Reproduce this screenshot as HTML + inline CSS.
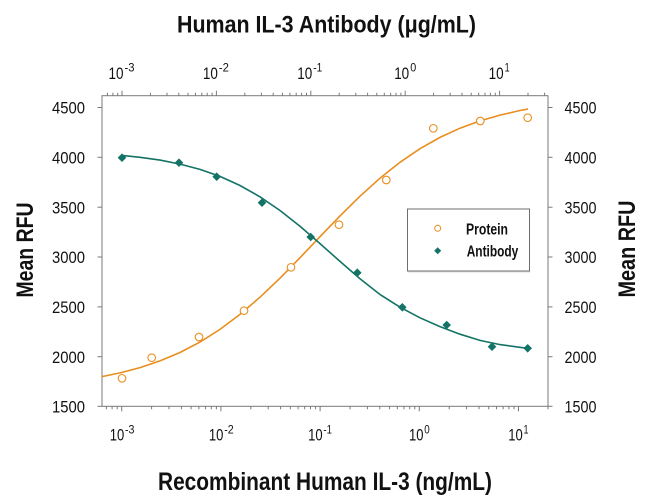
<!DOCTYPE html>
<html><head><meta charset="utf-8"><style>
html,body{margin:0;padding:0;background:#fff;}
svg{display:block;}
text{font-family:"Liberation Sans",sans-serif;fill:#111;}
</style></head><body>
<svg width="650" height="499" viewBox="0 0 650 499" xmlns="http://www.w3.org/2000/svg">
<rect width="650" height="499" fill="#fff"/>
<!-- titles -->
<text x="177" y="32.5" font-size="24" font-weight="bold" textLength="299" lengthAdjust="spacingAndGlyphs">Human IL-3 Antibody (μg/mL)</text>
<text x="158" y="490" font-size="25" font-weight="bold" textLength="334" lengthAdjust="spacingAndGlyphs">Recombinant Human IL-3 (ng/mL)</text>
<text transform="translate(33,250) rotate(-90)" text-anchor="middle" font-size="24" font-weight="bold" textLength="95" lengthAdjust="spacingAndGlyphs">Mean RFU</text>
<text transform="translate(635,249) rotate(-90)" text-anchor="middle" font-size="24" font-weight="bold" textLength="97" lengthAdjust="spacingAndGlyphs">Mean RFU</text>

<!-- frame -->
<rect x="102" y="95.7" width="446" height="310.6" fill="none" stroke="#7a7a7a" stroke-width="1"/>

<!-- y ticks -->
<g stroke="#7a7a7a" stroke-width="1">
<line x1="97.5" y1="107.5" x2="102" y2="107.5"/><line x1="548" y1="107.5" x2="552.5" y2="107.5"/>
<line x1="97.5" y1="157.3" x2="102" y2="157.3"/><line x1="548" y1="157.3" x2="552.5" y2="157.3"/>
<line x1="97.5" y1="207.2" x2="102" y2="207.2"/><line x1="548" y1="207.2" x2="552.5" y2="207.2"/>
<line x1="97.5" y1="257" x2="102" y2="257"/><line x1="548" y1="257" x2="552.5" y2="257"/>
<line x1="97.5" y1="306.9" x2="102" y2="306.9"/><line x1="548" y1="306.9" x2="552.5" y2="306.9"/>
<line x1="97.5" y1="356.7" x2="102" y2="356.7"/><line x1="548" y1="356.7" x2="552.5" y2="356.7"/>
<line x1="97.5" y1="406.3" x2="102" y2="406.3"/><line x1="548" y1="406.3" x2="552.5" y2="406.3"/>
</g>
<g font-size="17" text-anchor="end">
<text x="85" y="113.7" textLength="33" lengthAdjust="spacingAndGlyphs">4500</text>
<text x="85" y="163.5" textLength="33" lengthAdjust="spacingAndGlyphs">4000</text>
<text x="85" y="213.4" textLength="33" lengthAdjust="spacingAndGlyphs">3500</text>
<text x="85" y="263.2" textLength="33" lengthAdjust="spacingAndGlyphs">3000</text>
<text x="85" y="313.1" textLength="33" lengthAdjust="spacingAndGlyphs">2500</text>
<text x="85" y="362.9" textLength="33" lengthAdjust="spacingAndGlyphs">2000</text>
<text x="85" y="412.6" textLength="33" lengthAdjust="spacingAndGlyphs">1500</text>
</g>
<g font-size="17">
<text x="564.5" y="113.7" textLength="32" lengthAdjust="spacingAndGlyphs">4500</text>
<text x="564.5" y="163.5" textLength="32" lengthAdjust="spacingAndGlyphs">4000</text>
<text x="564.5" y="213.4" textLength="32" lengthAdjust="spacingAndGlyphs">3500</text>
<text x="564.5" y="263.2" textLength="32" lengthAdjust="spacingAndGlyphs">3000</text>
<text x="564.5" y="313.1" textLength="32" lengthAdjust="spacingAndGlyphs">2500</text>
<text x="564.5" y="362.9" textLength="32" lengthAdjust="spacingAndGlyphs">2000</text>
<text x="564.5" y="412.6" textLength="32" lengthAdjust="spacingAndGlyphs">1500</text>
</g>

<!-- top axis ticks (decade 94.4, 1e-3 at 122) -->
<g stroke="#7a7a7a" stroke-width="1">
<line x1="107.4" y1="95.7" x2="107.4" y2="92.7"/><line x1="112.9" y1="95.7" x2="112.9" y2="92.7"/><line x1="117.7" y1="95.7" x2="117.7" y2="92.7"/>
<line x1="122" y1="95.7" x2="122" y2="90.7"/>
<line x1="150.4" y1="95.7" x2="150.4" y2="92.7"/><line x1="167" y1="95.7" x2="167" y2="92.7"/><line x1="178.8" y1="95.7" x2="178.8" y2="92.7"/><line x1="188" y1="95.7" x2="188" y2="92.7"/><line x1="195.5" y1="95.7" x2="195.5" y2="92.7"/><line x1="201.8" y1="95.7" x2="201.8" y2="92.7"/><line x1="207.2" y1="95.7" x2="207.2" y2="92.7"/><line x1="212.1" y1="95.7" x2="212.1" y2="92.7"/>
<line x1="216.4" y1="95.7" x2="216.4" y2="90.7"/>
<line x1="244.8" y1="95.7" x2="244.8" y2="92.7"/><line x1="261.4" y1="95.7" x2="261.4" y2="92.7"/><line x1="273.2" y1="95.7" x2="273.2" y2="92.7"/><line x1="282.4" y1="95.7" x2="282.4" y2="92.7"/><line x1="289.9" y1="95.7" x2="289.9" y2="92.7"/><line x1="296.2" y1="95.7" x2="296.2" y2="92.7"/><line x1="301.6" y1="95.7" x2="301.6" y2="92.7"/><line x1="306.5" y1="95.7" x2="306.5" y2="92.7"/>
<line x1="310.8" y1="95.7" x2="310.8" y2="90.7"/>
<line x1="339.2" y1="95.7" x2="339.2" y2="92.7"/><line x1="355.8" y1="95.7" x2="355.8" y2="92.7"/><line x1="367.6" y1="95.7" x2="367.6" y2="92.7"/><line x1="376.8" y1="95.7" x2="376.8" y2="92.7"/><line x1="384.3" y1="95.7" x2="384.3" y2="92.7"/><line x1="390.6" y1="95.7" x2="390.6" y2="92.7"/><line x1="396" y1="95.7" x2="396" y2="92.7"/><line x1="400.9" y1="95.7" x2="400.9" y2="92.7"/>
<line x1="405.2" y1="95.7" x2="405.2" y2="90.7"/>
<line x1="433.6" y1="95.7" x2="433.6" y2="92.7"/><line x1="450.2" y1="95.7" x2="450.2" y2="92.7"/><line x1="462" y1="95.7" x2="462" y2="92.7"/><line x1="471.2" y1="95.7" x2="471.2" y2="92.7"/><line x1="478.7" y1="95.7" x2="478.7" y2="92.7"/><line x1="485" y1="95.7" x2="485" y2="92.7"/><line x1="490.4" y1="95.7" x2="490.4" y2="92.7"/><line x1="495.3" y1="95.7" x2="495.3" y2="92.7"/>
<line x1="499.6" y1="95.7" x2="499.6" y2="90.7"/>
<line x1="528" y1="95.7" x2="528" y2="92.7"/><line x1="544.6" y1="95.7" x2="544.6" y2="92.7"/>
</g>
<g font-size="17">
<text x="108.5" y="79" textLength="15" lengthAdjust="spacingAndGlyphs">10</text><text x="124.5" y="71.5" font-size="12" textLength="10" lengthAdjust="spacingAndGlyphs">-3</text>
<text x="202.9" y="79" textLength="15" lengthAdjust="spacingAndGlyphs">10</text><text x="218.9" y="71.5" font-size="12" textLength="10" lengthAdjust="spacingAndGlyphs">-2</text>
<text x="297.3" y="79" textLength="15" lengthAdjust="spacingAndGlyphs">10</text><text x="313.3" y="71.5" font-size="12" textLength="9" lengthAdjust="spacingAndGlyphs">-1</text>
<text x="394.2" y="79" textLength="15" lengthAdjust="spacingAndGlyphs">10</text><text x="410.2" y="71.5" font-size="12" textLength="6" lengthAdjust="spacingAndGlyphs">0</text>
<text x="488.6" y="79" textLength="15" lengthAdjust="spacingAndGlyphs">10</text><text x="504.6" y="71.5" font-size="12" textLength="5" lengthAdjust="spacingAndGlyphs">1</text>
</g>

<!-- bottom axis ticks (decade 99.2, 1e-3 at 121.7) -->
<g stroke="#7a7a7a" stroke-width="1">
<line x1="106.3" y1="406.3" x2="106.3" y2="409.3"/><line x1="112.1" y1="406.3" x2="112.1" y2="409.3"/><line x1="117.2" y1="406.3" x2="117.2" y2="409.3"/>
<line x1="121.7" y1="406.3" x2="121.7" y2="411.3"/>
<line x1="151.6" y1="406.3" x2="151.6" y2="409.3"/><line x1="169" y1="406.3" x2="169" y2="409.3"/><line x1="181.4" y1="406.3" x2="181.4" y2="409.3"/><line x1="191.1" y1="406.3" x2="191.1" y2="409.3"/><line x1="198.9" y1="406.3" x2="198.9" y2="409.3"/><line x1="205.5" y1="406.3" x2="205.5" y2="409.3"/><line x1="211.3" y1="406.3" x2="211.3" y2="409.3"/><line x1="216.4" y1="406.3" x2="216.4" y2="409.3"/>
<line x1="220.9" y1="406.3" x2="220.9" y2="411.3"/>
<line x1="250.8" y1="406.3" x2="250.8" y2="409.3"/><line x1="268.2" y1="406.3" x2="268.2" y2="409.3"/><line x1="280.6" y1="406.3" x2="280.6" y2="409.3"/><line x1="290.3" y1="406.3" x2="290.3" y2="409.3"/><line x1="298.1" y1="406.3" x2="298.1" y2="409.3"/><line x1="304.7" y1="406.3" x2="304.7" y2="409.3"/><line x1="310.5" y1="406.3" x2="310.5" y2="409.3"/><line x1="315.6" y1="406.3" x2="315.6" y2="409.3"/>
<line x1="320.1" y1="406.3" x2="320.1" y2="411.3"/>
<line x1="350" y1="406.3" x2="350" y2="409.3"/><line x1="367.4" y1="406.3" x2="367.4" y2="409.3"/><line x1="379.8" y1="406.3" x2="379.8" y2="409.3"/><line x1="389.5" y1="406.3" x2="389.5" y2="409.3"/><line x1="397.3" y1="406.3" x2="397.3" y2="409.3"/><line x1="403.9" y1="406.3" x2="403.9" y2="409.3"/><line x1="409.7" y1="406.3" x2="409.7" y2="409.3"/><line x1="414.8" y1="406.3" x2="414.8" y2="409.3"/>
<line x1="419.3" y1="406.3" x2="419.3" y2="411.3"/>
<line x1="449.2" y1="406.3" x2="449.2" y2="409.3"/><line x1="466.6" y1="406.3" x2="466.6" y2="409.3"/><line x1="479" y1="406.3" x2="479" y2="409.3"/><line x1="488.7" y1="406.3" x2="488.7" y2="409.3"/><line x1="496.5" y1="406.3" x2="496.5" y2="409.3"/><line x1="503.1" y1="406.3" x2="503.1" y2="409.3"/><line x1="508.9" y1="406.3" x2="508.9" y2="409.3"/><line x1="514" y1="406.3" x2="514" y2="409.3"/>
<line x1="518.5" y1="406.3" x2="518.5" y2="411.3"/>
<line x1="548" y1="406.3" x2="548" y2="409.3"/>
</g>
<g font-size="16.5">
<text x="109.7" y="440.5" textLength="14.5" lengthAdjust="spacingAndGlyphs">10</text><text x="125" y="433.3" font-size="11.5" textLength="9.5" lengthAdjust="spacingAndGlyphs">-3</text>
<text x="208.9" y="440.5" textLength="14.5" lengthAdjust="spacingAndGlyphs">10</text><text x="224.2" y="433.3" font-size="11.5" textLength="9.5" lengthAdjust="spacingAndGlyphs">-2</text>
<text x="308.1" y="440.5" textLength="14.5" lengthAdjust="spacingAndGlyphs">10</text><text x="323.4" y="433.3" font-size="11.5" textLength="8.5" lengthAdjust="spacingAndGlyphs">-1</text>
<text x="409" y="440.5" textLength="14.5" lengthAdjust="spacingAndGlyphs">10</text><text x="424.3" y="433.3" font-size="11.5" textLength="5.5" lengthAdjust="spacingAndGlyphs">0</text>
<text x="508.2" y="440.5" textLength="14.5" lengthAdjust="spacingAndGlyphs">10</text><text x="523.5" y="433.3" font-size="11.5" textLength="5" lengthAdjust="spacingAndGlyphs">1</text>
</g>

<!-- curves -->
<polyline fill="none" stroke="#E98E1E" stroke-width="1.6" points="102,376.6 120,372.9 140,367.6 160,360.9 180,352.5 200,342.1 220,329.4 240,314.4 260,297.2 280,278.2 300,257.7 320,236.7 340,215.9 360,196.2 380,178.2 400,162.3 420,148.7 440,137.4 460,128.2 480,120.9 500,115.1 520,110.5 528,109.1"/>
<polyline fill="none" stroke="#137366" stroke-width="1.6" points="122,155.4 140,157.3 160,160.1 180,164.1 200,169.4 220,176.4 240,185.5 260,196.8 280,210.5 300,226.3 320,243.6 340,261.4 360,278.7 380,294.5 400,307.2 420,317.8 440,326.6 460,334.2 480,340.4 500,344.6 528,348.4"/>

<!-- protein markers -->
<g fill="#fff" stroke="#E98E1E" stroke-width="1.1">
<circle cx="122" cy="378.3" r="3.8"/><circle cx="151.7" cy="357.7" r="3.8"/><circle cx="199" cy="337" r="3.8"/><circle cx="244" cy="310.7" r="3.8"/><circle cx="291" cy="267.3" r="3.8"/><circle cx="339" cy="224.7" r="3.8"/><circle cx="386.3" cy="180" r="3.8"/><circle cx="433.3" cy="128.3" r="3.8"/><circle cx="480.3" cy="121" r="3.8"/><circle cx="527.7" cy="117.7" r="3.8"/>
</g>
<!-- antibody markers -->
<g fill="#137366">
<path d="M122,153.4 l4.3,4.3 l-4.3,4.3 l-4.3,-4.3z"/>
<path d="M179,158.4 l4.3,4.3 l-4.3,4.3 l-4.3,-4.3z"/>
<path d="M216.7,172.4 l4.3,4.3 l-4.3,4.3 l-4.3,-4.3z"/>
<path d="M262,198.4 l4.3,4.3 l-4.3,4.3 l-4.3,-4.3z"/>
<path d="M310.7,232.7 l4.3,4.3 l-4.3,4.3 l-4.3,-4.3z"/>
<path d="M357.3,268.4 l4.3,4.3 l-4.3,4.3 l-4.3,-4.3z"/>
<path d="M402.3,303 l4.3,4.3 l-4.3,4.3 l-4.3,-4.3z"/>
<path d="M446.7,320.7 l4.3,4.3 l-4.3,4.3 l-4.3,-4.3z"/>
<path d="M492,342.4 l4.3,4.3 l-4.3,4.3 l-4.3,-4.3z"/>
<path d="M527.7,344 l4.3,4.3 l-4.3,4.3 l-4.3,-4.3z"/>
</g>

<!-- legend -->
<rect x="407.5" y="209" width="122" height="62" fill="#fff" stroke="#6e6e6e" stroke-width="1"/>
<line x1="408" y1="271.8" x2="530.3" y2="271.8" stroke="#bbb" stroke-width="1"/>
<circle cx="437.7" cy="228.3" r="3" fill="#fff" stroke="#E98E1E" stroke-width="1"/>
<path d="M437.7,247.2 l3.5,3.5 l-3.5,3.5 l-3.5,-3.5z" fill="#137366"/>
<text x="466" y="234.5" font-size="15.5" font-weight="bold" textLength="42" lengthAdjust="spacingAndGlyphs">Protein</text>
<text x="466.7" y="256.5" font-size="15.5" font-weight="bold" textLength="51.6" lengthAdjust="spacingAndGlyphs">Antibody</text>
</svg>
</body></html>
